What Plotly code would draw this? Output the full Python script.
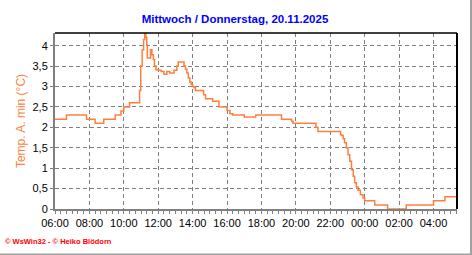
import plotly.graph_objects as go

title_text = "Mittwoch / Donnerstag, 20.11.2025"
y_title = "Temp. A. min (°C)"
footer = "© WsWin32 - © Heiko Blödorn"

times = [
    "2025-11-19 06:00", "2025-11-19 06:40", "2025-11-19 07:50", "2025-11-19 08:20",
    "2025-11-19 08:50", "2025-11-19 09:30", "2025-11-19 09:50", "2025-11-19 10:00",
    "2025-11-19 10:20", "2025-11-19 10:50", "2025-11-19 10:55", "2025-11-19 10:59",
    "2025-11-19 11:04", "2025-11-19 11:09", "2025-11-19 11:13", "2025-11-19 11:17",
    "2025-11-19 11:20", "2025-11-19 11:22", "2025-11-19 11:33", "2025-11-19 11:38",
    "2025-11-19 11:43", "2025-11-19 11:47", "2025-11-19 11:52", "2025-11-19 12:00",
    "2025-11-19 12:10", "2025-11-19 12:20", "2025-11-19 12:30", "2025-11-19 12:40",
    "2025-11-19 12:55", "2025-11-19 13:05", "2025-11-19 13:10", "2025-11-19 13:25",
    "2025-11-19 13:30", "2025-11-19 13:35", "2025-11-19 13:40", "2025-11-19 13:45",
    "2025-11-19 13:50", "2025-11-19 13:55", "2025-11-19 14:00", "2025-11-19 14:05",
    "2025-11-19 14:10", "2025-11-19 14:38", "2025-11-19 14:45", "2025-11-19 15:10",
    "2025-11-19 15:32", "2025-11-19 16:00", "2025-11-19 16:10", "2025-11-19 16:20",
    "2025-11-19 17:00", "2025-11-19 17:40", "2025-11-19 19:10", "2025-11-19 19:45",
    "2025-11-19 19:50", "2025-11-19 21:10", "2025-11-19 21:17", "2025-11-19 22:36",
    "2025-11-19 22:40", "2025-11-19 22:45", "2025-11-19 22:50", "2025-11-19 22:56",
    "2025-11-19 23:02", "2025-11-19 23:08", "2025-11-19 23:14", "2025-11-19 23:20",
    "2025-11-19 23:25", "2025-11-19 23:31", "2025-11-19 23:37", "2025-11-19 23:45",
    "2025-11-19 23:54", "2025-11-20 00:00", "2025-11-20 00:35", "2025-11-20 01:20",
    "2025-11-20 02:25", "2025-11-20 04:00", "2025-11-20 04:40", "2025-11-20 05:20",
]
values = [
    2.2, 2.3, 2.2, 2.1,
    2.2, 2.3, 2.4, 2.5,
    2.6, 2.6, 2.9, 3.5,
    3.9, 4.15, 4.3, 4.2,
    4.03, 3.7, 3.9, 3.78,
    3.66, 3.5, 3.41, 3.4,
    3.37, 3.3, 3.37, 3.33,
    3.4, 3.5, 3.6, 3.6,
    3.5, 3.42, 3.33, 3.21,
    3.11, 3.05, 3.0, 2.97,
    2.9, 2.8, 2.7, 2.64,
    2.5, 2.41, 2.33, 2.3,
    2.25, 2.3, 2.2, 2.15,
    2.1, 2.0, 1.9, 1.82,
    1.8, 1.72, 1.62, 1.5,
    1.33, 1.17, 0.96, 0.8,
    0.64, 0.54, 0.46, 0.35,
    0.27, 0.2, 0.1, 0.0,
    0.1, 0.2, 0.3, 0.3,
]

fig = go.Figure()
fig.add_trace(go.Scatter(
    x=times, y=values, mode="lines", line_shape="hv",
    line=dict(color="#FF7F3F", width=1.5), hoverinfo="skip",
))

grid = dict(gridcolor="#808080", gridwidth=1, griddash="4px,3px")
fig.update_layout(
    width=472, height=255,
    margin=dict(l=55, r=15, t=33, b=46),
    paper_bgcolor="white", plot_bgcolor="white",
    separators=",.",
    showlegend=False,
    font=dict(family="Liberation Sans, Arial, sans-serif", size=11, color="black"),
    title=dict(text=title_text, x=235 / 472, xanchor="center", y=1 - 19 / 255, yanchor="middle",
               font=dict(size=11.5, color="#0000FF", family="Liberation Sans, Arial, sans-serif", weight="bold")),
    xaxis=dict(
        type="date", range=["2025-11-19 06:00", "2025-11-20 05:22"],
        tick0="2025-11-19 06:00", dtick=2 * 3600 * 1000, tickformat="%H:%M",
        showgrid=True, **grid, zeroline=False,
        showline=True, linecolor="#808080", linewidth=2,
        ticks="outside", ticklen=3, tickcolor="#808080", tickwidth=1,
        minor=dict(dtick=20 * 60 * 1000, ticks="outside", ticklen=3, tickcolor="#808080", showgrid=False),
        tickfont=dict(size=11, color="black"), layer="below traces",
    ),
    yaxis=dict(
        range=[0, 4.31], dtick=0.5, tick0=0,
        showgrid=True, **grid, zeroline=False,
        showline=True, linecolor="#808080", linewidth=2,
        ticks="outside", ticklen=3, tickcolor="#808080",
        tickfont=dict(size=11, color="black"),
        title=dict(text=y_title, font=dict(size=12, color="#FF7F3F"), standoff=4),
    ),
)

# top and right black frame lines
fig.add_shape(type="line", xref="paper", yref="paper", x0=0, x1=1, y0=1, y1=1,
              line=dict(color="black", width=1.3))
fig.add_shape(type="line", xref="paper", yref="paper", x0=1, x1=1, y0=0, y1=1,
              line=dict(color="black", width=2))
# outer image border (bottom and right)
fig.add_shape(type="line", xref="paper", yref="paper", x0=-0.2, x1=1.04, y0=-0.2585, y1=-0.2585,
              line=dict(color="#A0A0A0", width=2))
fig.add_shape(type="line", xref="paper", yref="paper", x0=1.0348, x1=1.0348, y0=-0.26, y1=1.2,
              line=dict(color="#A0A0A0", width=2))

fig.add_annotation(text=footer, xref="paper", yref="paper", x=-0.13, xanchor="left",
                   y=(209 - 241) / 176, yanchor="middle", showarrow=False,
                   font=dict(size=7.5, color="#FF0000", family="Liberation Sans, Arial, sans-serif", weight="bold"))

fig.write_html("out.html")
